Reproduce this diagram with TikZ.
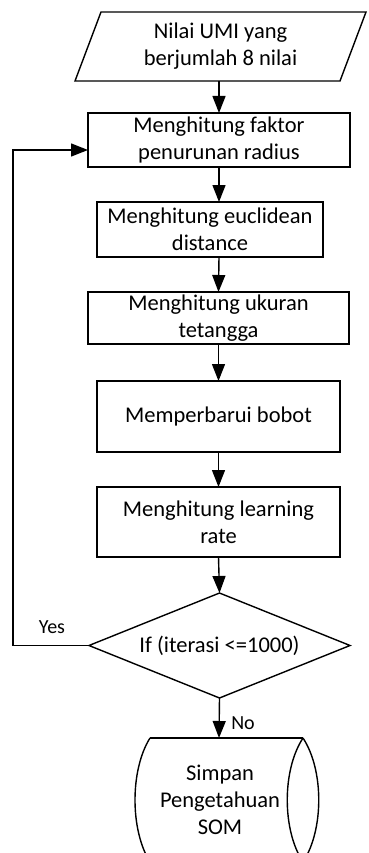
\documentclass[tikz,border=0pt]{standalone}
\usepackage{fontspec}
\setmainfont{Carlito}
\usetikzlibrary{arrows.meta,shapes.geometric}
\begin{document}
\begin{tikzpicture}[x=1pt,y=-1pt,
  every node/.style={font=\fontsize{22.5}{27}\selectfont, align=center, outer sep=0pt, inner sep=0pt},
  line/.style={line width=1.4pt, draw=black},
  procbox/.style={line, rectangle},
  arr/.style={line, -{Triangle[length=17pt,width=13pt]}},
  lbl/.style={font=\fontsize{20}{24}\selectfont}
]
\useasboundingbox (0,0) rectangle (368,853);
\clip (0,0) rectangle (368,853);
% input parallelogram
\node (in) at (220.5,46.5) [minimum width=265pt, minimum height=69pt] {Nilai UMI yang\\berjumlah 8 nilai};
\draw[line] ([xshift=13pt]in.north west) -- ([xshift=13pt]in.north east)
  -- ([xshift=-13pt]in.south east) -- ([xshift=-13pt]in.south west) -- cycle;
% process boxes
\node[procbox, minimum width=262pt, minimum height=54pt] (b1) at (219,140) {Menghitung faktor\\penurunan radius};
\node[procbox, minimum width=226pt, minimum height=55pt] (b2) at (210,229.5) {Menghitung euclidean\\distance};
\node[procbox, minimum width=261pt, minimum height=52pt] (b3) at (218.5,318) {Menghitung ukuran\\tetangga};
\node[procbox, minimum width=243pt, minimum height=71pt] (b4) at (218.5,416.5) {Memperbarui bobot};
\node[procbox, minimum width=243pt, minimum height=70pt] (b5) at (218.5,522) {Menghitung learning\\rate};
% decision
\node[line, diamond, aspect=2.49, minimum width=261pt, minimum height=105pt] (dec) at (219.5,645.5) {If (iterasi <=1000)};
% storage
\coordinate (sttop) at (219,738);
\node (st) at (220,800) {Simpan\\Pengetahuan\\SOM};
\draw[line] (150,738) -- (303,738);
\draw[line] (150,738) .. controls (130,770) and (130,830) .. (150,862);
\draw[line] (303,738) .. controls (282,770) and (282,830) .. (303,862);
\draw[line] (303,738) .. controls (324,770) and (324,830) .. (303,862);
% arrows
\draw[arr] (in.south -| b1.north) -- (b1.north);
\draw[arr] (b1.south) -- (b1.south |- b2.north);
\draw[arr] (b1.south |- b2.south) -- (b3.north);
\draw[arr] (b3.south) -- (b4.north);
\draw[arr] (b4.south) -- (b5.north);
\draw[arr] (b5.south) -- (dec.north);
\draw[arr] (dec.south) -- (sttop);
\coordinate (lp) at (13,150);
\draw[arr] (dec.west) -| (lp) -- (lp -| b1.west);
% labels
\node[lbl] (yes) at (52,627) {Yes};
\node[lbl] (no) at (243,723) {No};
\end{tikzpicture}
\end{document}
